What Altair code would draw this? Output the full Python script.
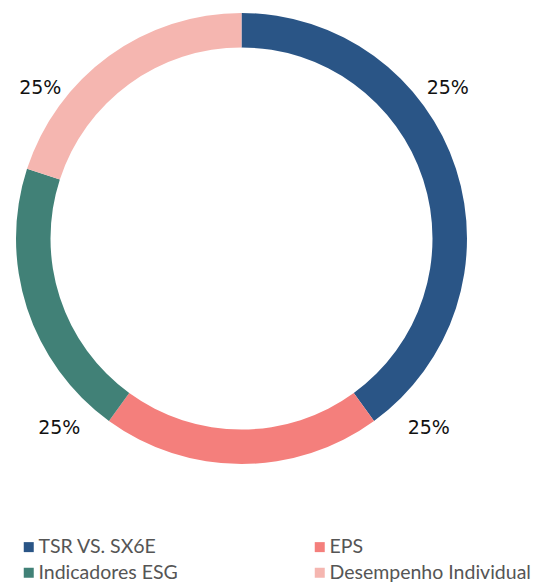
import altair as alt
import pandas as pd

categories = ["TSR VS. SX6E", "EPS", "Indicadores ESG", "Desempenho Individual"]
shares = [40, 20, 20, 20]          # arc sizes as drawn
label_pcts = [25, 25, 25, 25]      # percentages printed on the chart
colors = ["#2A5586", "#F47F7C", "#418177", "#F5B6B0"]

df = pd.DataFrame({
    "category": categories,
    "share": shares,
    "label_pct": label_pcts,
    "idx": list(range(len(categories))),
})
df["label"] = [f"{v}%" for v in label_pcts]

CX, CY = 233.5, 230.5

color_enc = alt.Color(
    "category:N",
    scale=alt.Scale(domain=categories, range=colors),
    sort=categories,
    legend=alt.Legend(
        title=None, orient="none", legendX=11, legendY=529, columns=2,
        direction="horizontal",
        symbolType="square", symbolSize=100, symbolStrokeWidth=0,
        symbolOffset=0, labelFont="Lato", labelFontSize=19.5,
        labelColor="#555555", columnPadding=132, rowPadding=5,
        labelOffset=0, padding=0, labelLimit=300,
    ),
)

arcs = alt.Chart(df).mark_arc(radius=225.5, innerRadius=191).encode(
    theta=alt.Theta("share:Q", stack=True, scale=alt.Scale(domain=[0, 100])),
    order=alt.Order("idx:Q"),
    color=color_enc,
    x=alt.value(CX),
    y=alt.value(CY),
)

offsets = {
    "TSR VS. SX6E": (21, 35),
    "EPS": (2, 4),
    "Indicadores ESG": (3, 4),
    "Desempenho Individual": (-16, 35),
}

base_text = alt.Chart(df).transform_stack(
    stack="label_pct", as_=["t0", "t1"], groupby=[], sort=[alt.SortField("idx")]
).transform_calculate(mid="(datum.t0 + datum.t1) / 2")

texts = []
for cat in categories:
    dx, dy = offsets[cat]
    texts.append(
        base_text.transform_filter(alt.datum.category == cat).mark_text(
            radius=262, font="DejaVu Sans", fontSize=19, color="#111111",
            align="center", baseline="middle", dx=dx, dy=dy,
        ).encode(
            theta=alt.Theta("mid:Q", stack=None, scale=alt.Scale(domain=[0, 100])),
            text="label:N",
            x=alt.value(CX),
            y=alt.value(CY),
        )
    )

chart = alt.layer(arcs, *texts).properties(
    width=529, height=575, autosize=alt.AutoSizeParams(type="none"), padding=0,
).configure_view(stroke=None)

chart.save("out.html", embed_options={"renderer": "svg", "actions": False})
